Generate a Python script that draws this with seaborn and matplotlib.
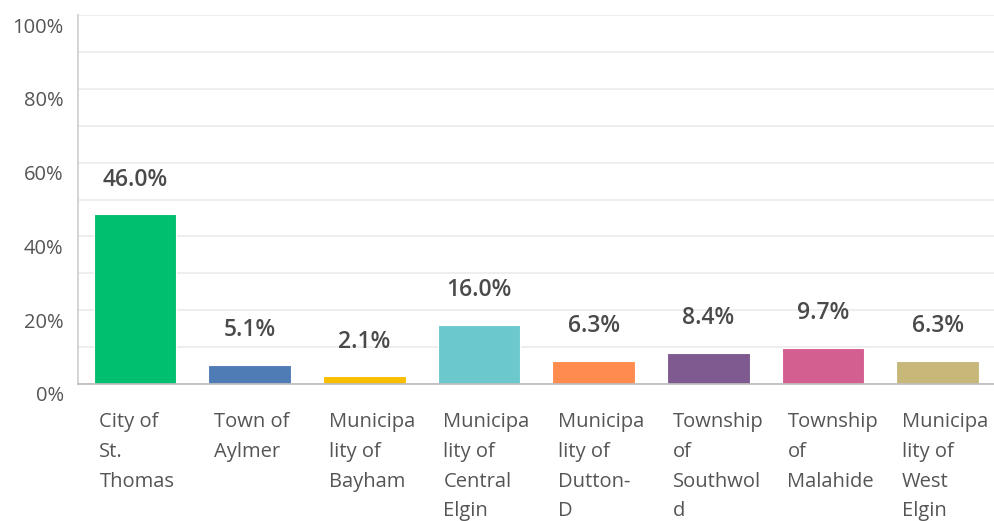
import numpy as np
import pandas as pd
import seaborn as sns
import matplotlib.pyplot as plt
import matplotlib.transforms as mtransforms
from matplotlib.ticker import MultipleLocator

# Share of responses by municipality (percent).
names = [
    "City of St. Thomas",
    "Town of Aylmer",
    "Municipality of Bayham",
    "Municipality of Central Elgin",
    "Municipality of Dutton-D",
    "Township of Southwold",
    "Township of Malahide",
    "Municipality of West Elgin",
]
tick_labels = [
    "City of\nSt.\nThomas",
    "Town of\nAylmer",
    "Municipa\nlity of\nBayham",
    "Municipa\nlity of\nCentral\nElgin",
    "Municipa\nlity of\nDutton-\nD",
    "Township\nof\nSouthwol\nd",
    "Township\nof\nMalahide",
    "Municipa\nlity of\nWest\nElgin",
]
values = [46.0, 5.1, 2.1, 16.0, 6.3, 8.4, 9.7, 6.3]
colors = ["#00BF6F", "#507CB6", "#F9BE00", "#6BC8CD",
          "#FF8B4F", "#7F5A90", "#D25F90", "#C7B879"]

sns.set_theme(style="white")
plt.rcParams["font.family"] = ["Open Sans", "DejaVu Sans"]

df = pd.DataFrame({"names": names, "value": values})

fig = plt.figure(figsize=(9.95, 5.21), dpi=100)
ax = fig.add_axes([0.078, 0.263, 0.922, 0.708])

sns.barplot(data=df, x="names", y="value", hue="names", palette=colors,
            saturation=1, width=0.72, legend=False, ax=ax, zorder=3)
for patch in ax.patches:
    patch.set_edgecolor("white")
    patch.set_linewidth(0.8)

ax.set_xlim(-0.5, len(names) - 0.5)
ax.set_ylim(0, 100)
ax.yaxis.set_minor_locator(MultipleLocator(10))
ax.set_yticks(np.arange(0, 101, 20))
ax.set_yticklabels([f"{v}%" for v in range(0, 101, 20)], color="#555555", fontsize=14.5)
ax.tick_params(axis="y", which="both", length=0, pad=10)
ax.grid(axis="y", which="both", color="#ebebeb", linewidth=1.2, zorder=0)
ax.set_axisbelow(True)

# shift y labels slightly below the grid line, as in the original
offset = mtransforms.ScaledTranslation(0, -0.1, fig.dpi_scale_trans)
for lbl in ax.get_yticklabels():
    lbl.set_transform(lbl.get_transform() + offset)

ax.set_xticks(range(len(names)))
ax.set_xticklabels([])
ax.tick_params(axis="x", length=0)
ax.set_xlabel("")
ax.set_ylabel("")

# left-aligned wrapped category labels under each bar
trans = mtransforms.blended_transform_factory(ax.transData, ax.transAxes)
for i, lab in enumerate(tick_labels):
    ax.text(i - 0.31, -0.076, lab, transform=trans, ha="left", va="top",
            fontsize=14.5, color="#555555", linespacing=1.65)

# value labels above bars
for i, v in enumerate(values):
    ax.annotate(f"{v:.1f}%", (i, v), xytext=(0, 25), textcoords="offset points",
                ha="center", va="center", fontsize=16.5, fontweight="semibold",
                color="#4a4a4a")

for side in ["top", "right"]:
    ax.spines[side].set_visible(False)
ax.spines["left"].set_color("#d0d0d0")
ax.spines["bottom"].set_color("#bdbdbd")
ax.spines["bottom"].set_zorder(4)

plt.savefig("out.png", dpi=100)
